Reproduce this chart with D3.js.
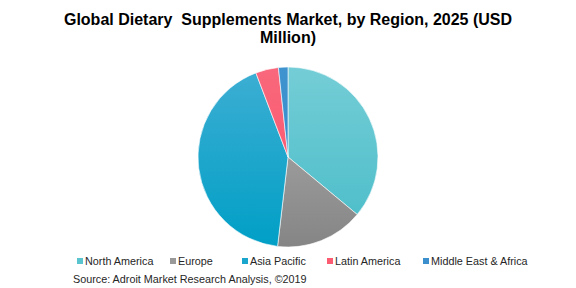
<!DOCTYPE html>
<html>
<head>
<meta charset="utf-8">
<script src="https://cdn.jsdelivr.net/npm/d3@7"></script>
<style>
  body { margin: 0; background: #fff; }
  svg { display: block; font-family: Arial, "Liberation Sans", sans-serif; }
</style>
</head>
<body>
<div id="chart"></div>
<script>
const regions = ['North America', 'Europe', 'Asia Pacific', 'Latin America', 'Middle East & Africa']
const values = [36.0, 15.8, 42.3, 4.1, 1.7]
const colorsTop = ['#74cdd6', '#b0b0b0', '#3eaed3', '#f8687c', '#3f94cf']
const colorsBottom = ['#48bcc8', '#858585', '#009fc6', '#ff5068', '#2f88c8']
const legendColors = ['#5ac5cf', '#999999', '#1aa6cc', '#fb5c72', '#3a8fcc']
const titleLines = ['Global Dietary  Supplements Market, by Region, 2025 (USD', 'Million)']
const source = 'Source: Adroit Market Research Analysis, \u00a92019'

const width = 576, height = 288
const cx = 288, cy = 157, r = 90

const svg = d3.select('#chart').append('svg')
  .attr('width', width)
  .attr('height', height)

// title
svg.append('g').selectAll('text')
  .data(titleLines)
  .join('text')
  .attr('x', width / 2)
  .attr('y', (d, i) => 25 + i * 18)
  .attr('text-anchor', 'middle')
  .attr('font-size', 16)
  .attr('font-weight', 'bold')
  .attr('fill', '#000')
  .style('white-space', 'pre')
  .text(d => d)

// gradients (in the pie group's coordinates)
const defs = svg.append('defs')
regions.forEach((name, i) => {
  const g = defs.append('linearGradient')
    .attr('id', 'grad' + i)
    .attr('gradientUnits', 'userSpaceOnUse')
    .attr('x1', 0).attr('x2', 0)
    .attr('y1', -r).attr('y2', r)
  g.append('stop').attr('offset', '0%').attr('stop-color', colorsTop[i])
  g.append('stop').attr('offset', '100%').attr('stop-color', colorsBottom[i])
})

const pie = d3.pie().sort(null).value(d => d)
const arc = d3.arc().innerRadius(0).outerRadius(r)

svg.append('g')
  .attr('transform', `translate(${cx},${cy})`)
  .selectAll('path')
  .data(pie(values))
  .join('path')
  .attr('d', arc)
  .attr('fill', (d, i) => `url(#grad${i})`)
  .attr('stroke', '#fff')
  .attr('stroke-width', 0.6)

// legend
const legendX = [77, 170, 242, 327, 423]
const legend = svg.append('g').selectAll('g')
  .data(regions)
  .join('g')
  .attr('transform', (d, i) => `translate(${legendX[i]},258)`)

legend.append('rect')
  .attr('width', 6).attr('height', 6)
  .attr('fill', (d, i) => legendColors[i])

legend.append('text')
  .attr('x', 8)
  .attr('y', 7)
  .attr('font-size', 10.8)
  .attr('fill', '#262626')
  .text(d => d)

svg.append('text')
  .attr('x', 73)
  .attr('y', 283)
  .attr('font-size', 10.8)
  .attr('fill', '#262626')
  .text(source)
</script>
</body>
</html>
